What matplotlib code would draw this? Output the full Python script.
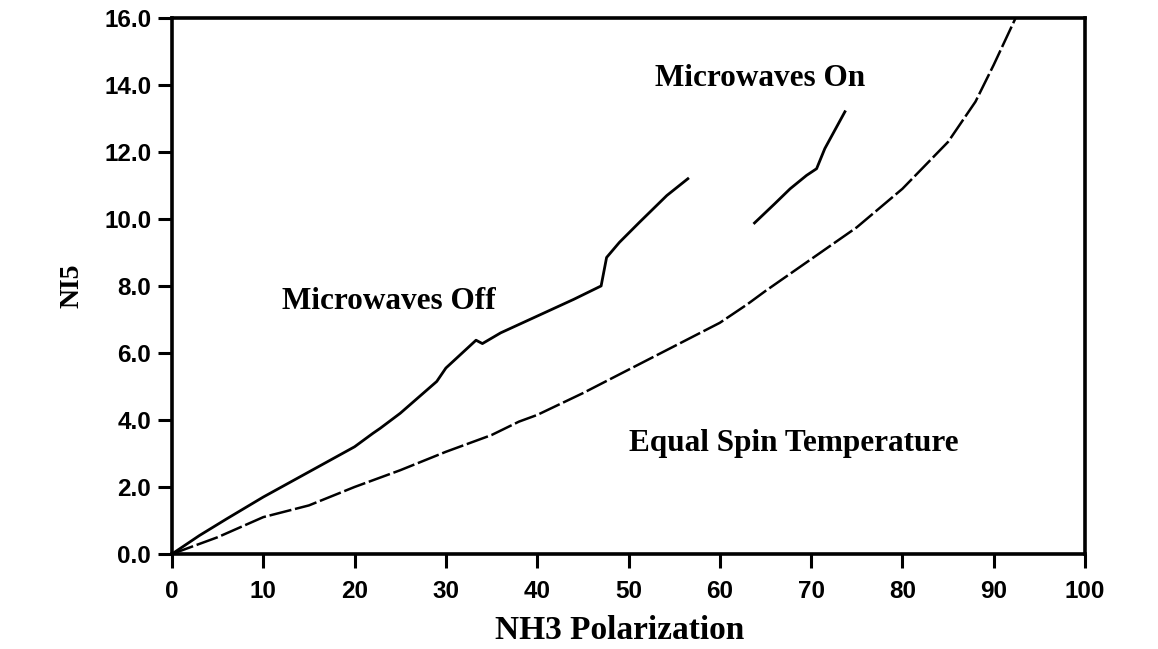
import matplotlib.pyplot as plt
from matplotlib.ticker import FormatStrFormatter

# microwaves off: NH3 polarization vs N15 polarization
off_x = [0, 3, 6, 10, 15, 20, 22, 22.8, 25, 29, 30, 33.3, 34, 36, 40, 44, 47, 47.6, 49, 51.2, 54.2, 56.5]
off_y = [0, 0.55, 1.05, 1.7, 2.45, 3.2, 3.6, 3.75, 4.2, 5.15, 5.55, 6.38, 6.28, 6.6, 7.1, 7.6, 8.0, 8.85, 9.3, 9.9, 10.7, 11.2]

# microwaves on
on_x = [63.8, 66, 67.7, 69.5, 70.6, 71.5, 73.7]
on_y = [9.88, 10.45, 10.9, 11.3, 11.5, 12.1, 13.2]

# equal spin temperature prediction
est_x = [0, 2, 5, 10, 15, 20, 25, 30, 35, 38, 40, 45, 50, 55, 60, 63, 65, 70, 75, 80, 85, 88, 90, 92.4]
est_y = [0, 0.2, 0.5, 1.1, 1.45, 2.0, 2.5, 3.05, 3.55, 3.95, 4.15, 4.8, 5.5, 6.2, 6.9, 7.45, 7.85, 8.8, 9.75, 10.9, 12.3, 13.5, 14.6, 16.0]

x_ticks = list(range(0, 101, 10))
y_ticks = [0, 2, 4, 6, 8, 10, 12, 14, 16]

tick_font = {'family': ['Liberation Sans', 'DejaVu Sans'], 'weight': 'bold', 'size': 17.5}
label_font = {'family': ['Liberation Serif', 'DejaVu Serif'], 'weight': 'bold', 'size': 24}

fig = plt.figure(figsize=(11.58, 6.49), dpi=100)
ax = fig.add_axes([0.1485, 0.1464, 0.7885, 0.826])

ax.plot(off_x, off_y, color='black', lw=2.0)
ax.plot(on_x, on_y, color='black', lw=2.0)
ax.plot(est_x, est_y, color='black', lw=1.8, linestyle=(0, (9, 1.5)))

ax.set_xlim(0, 100)
ax.set_ylim(0, 16)
ax.set_xticks(x_ticks)
ax.set_yticks(y_ticks)
ax.yaxis.set_major_formatter(FormatStrFormatter('%.1f'))
ax.tick_params(direction='out', length=10, width=2.2)
ax.tick_params(axis='x', pad=9)
ax.tick_params(axis='y', pad=5)
for lbl in ax.get_xticklabels() + ax.get_yticklabels():
    lbl.set_fontproperties(tick_font)
for sp in ax.spines.values():
    sp.set_linewidth(2.6)

ax.set_xlabel('NH3 Polarization', fontdict=label_font, va='center')
ax.xaxis.set_label_coords(0.49, -0.143)
ax.set_ylabel('NI5', fontdict={**label_font, 'size': 20}, labelpad=14)

ann_font = {'family': ['Liberation Serif', 'DejaVu Serif'], 'weight': 'bold', 'size': 22.5}
ax.text(12.0, 7.55, 'Microwaves Off', va='center', ha='left', **ann_font)
ax.text(52.9, 14.2, 'Microwaves On', va='center', ha='left', **ann_font)
ax.text(50.1, 3.3, 'Equal Spin Temperature', va='center', ha='left', **ann_font)

fig.savefig('out.png', dpi=100)
